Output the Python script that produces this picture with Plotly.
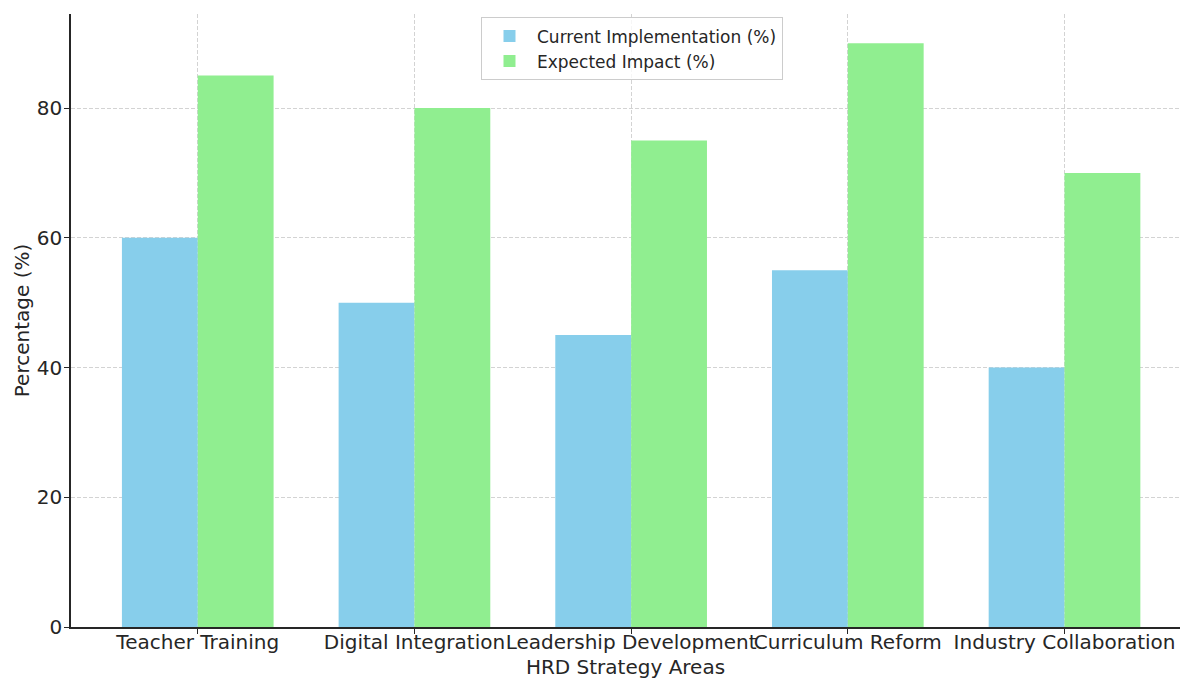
import plotly.graph_objects as go

categories = ["Teacher Training", "Digital Integration", "Leadership Development",
              "Curriculum Reform", "Industry Collaboration"]
current_impl = [60, 50, 45, 55, 40]
expected_impact = [85, 80, 75, 90, 70]
y_ticks = [0, 20, 40, 60, 80]

x_pos = list(range(len(categories)))
bar_w = 0.35
text_col = "#262626"
font_fam = "DejaVu Sans"

fig = go.Figure()
fig.add_trace(go.Bar(
    x=x_pos, y=current_impl, name="Current Implementation (%)",
    width=bar_w, offset=-bar_w, marker=dict(color="#87CEEB", line=dict(width=0)),
))
fig.add_trace(go.Bar(
    x=x_pos, y=expected_impact, name="Expected Impact (%)",
    width=bar_w, offset=0, marker=dict(color="#90EE90", line=dict(width=0)),
))

fig.update_layout(
    width=1180, height=679,
    margin=dict(l=71, r=0, t=14, b=52, autoexpand=False),
    paper_bgcolor="white", plot_bgcolor="white",
    barmode="overlay",
    font=dict(family=font_fam, color=text_col, size=20),
    showlegend=True,
    legend=dict(
        x=0.3697, y=0.9945, xanchor="left", yanchor="top",
        bgcolor="rgba(255,255,255,0.8)", bordercolor="#cccccc", borderwidth=1,
        font=dict(size=17, color=text_col, family=font_fam),
        tracegroupgap=0, itemwidth=45,
    ),
    xaxis=dict(
        type="linear", range=[-0.585, 4.533],
        tickmode="array", tickvals=x_pos, ticktext=categories,
        tickangle=0, automargin=False,
        showline=True, linecolor=text_col, linewidth=1.5, mirror=False,
        ticks="outside", ticklen=5, tickwidth=1.2, tickcolor=text_col,
        ticklabelstandoff=-9,
        showgrid=True, gridcolor="#d3d3d3", griddash="4px,2px", gridwidth=1,
        zeroline=False,
        title=dict(text="HRD Strategy Areas", font=dict(size=20), standoff=10),
        tickfont=dict(size=20),
    ),
    yaxis=dict(
        range=[0, 94.5], automargin=False,
        tickmode="array", tickvals=y_ticks,
        showline=True, linecolor=text_col, linewidth=1.5, mirror=False,
        ticks="outside", ticklen=5, tickwidth=1.2, tickcolor=text_col,
        ticklabelstandoff=-2,
        showgrid=True, gridcolor="#d3d3d3", griddash="4px,2px", gridwidth=1,
        zeroline=False,
        title=dict(text="Percentage (%)", font=dict(size=20), standoff=2),
        tickfont=dict(size=20),
    ),
)

fig.write_html("out.html")
